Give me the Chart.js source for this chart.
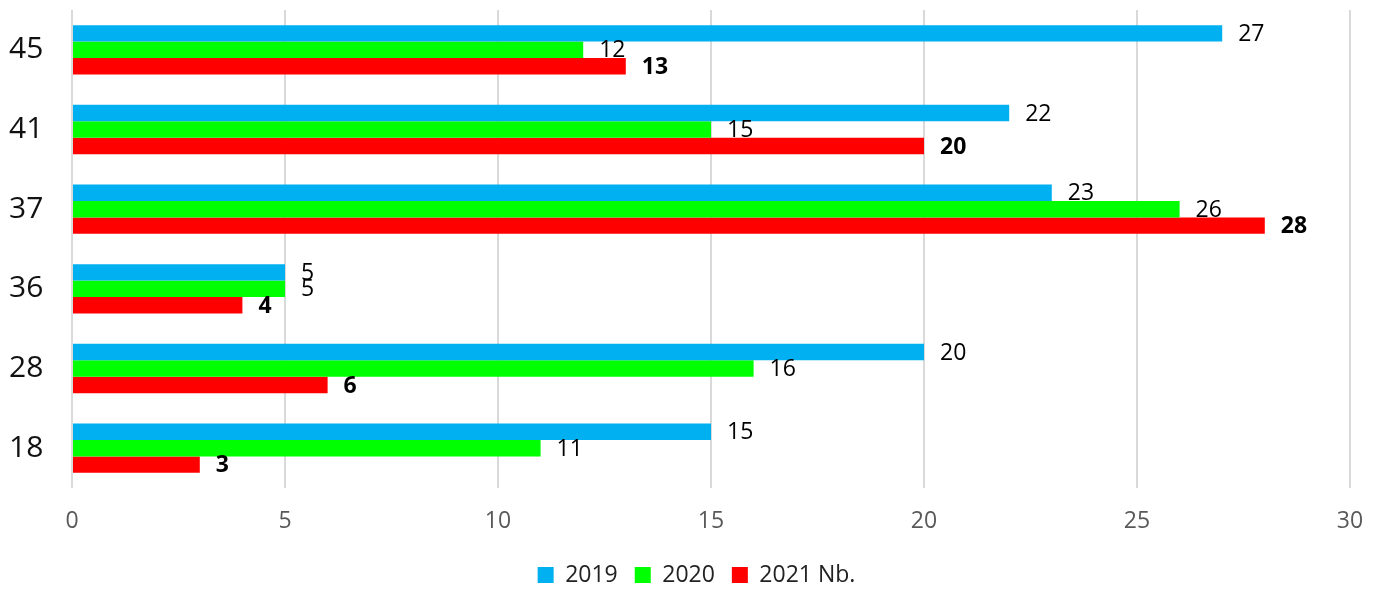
<!DOCTYPE html>
<html>
<head>
<meta charset="utf-8">
<script src="https://cdn.jsdelivr.net/npm/chart.js@4"></script>
<style>
  html, body { margin: 0; padding: 0; background: #fff; }
  #wrap { width: 1384px; height: 589px; }
</style>
</head>
<body>
<div id="wrap"><canvas id="chart" width="1384" height="589"></canvas></div>
<script>
const categories = ["45", "41", "37", "36", "28", "18"];
const values2019 = [27, 22, 23, 5, 20, 15];
const values2020 = [12, 15, 26, 5, 16, 11];
const values2021 = [13, 20, 28, 4, 6, 3];

const FONT = '"Open Sans", "Liberation Sans", sans-serif';

// value labels at the end of each bar, last series in bold
const barLabels = {
    id: "barLabels",
    afterDatasetsDraw(chart) {
        const ctx = chart.ctx;
        chart.data.datasets.forEach((ds, i) => {
            const meta = chart.getDatasetMeta(i);
            meta.data.forEach((bar, j) => {
                ctx.save();
                ctx.font = (i === 2 ? "bold " : "") + "23px " + FONT;
                ctx.fillStyle = "#000";
                ctx.textAlign = "left";
                ctx.textBaseline = "middle";
                ctx.fillText(ds.data[j], bar.x + 16, bar.y + 1);
                ctx.restore();
            });
        });
    }
};

// legend is centred on the whole page, not on the padded box
const legendShift = {
    id: "legendShift",
    afterLayout(chart) {
        chart.legend.left += 17;
        chart.legend.right += 17;
    }
};

new Chart(document.getElementById("chart"), {
    type: "bar",
    data: {
        labels: categories,
        datasets: [
            { label: "2019", data: values2019, backgroundColor: "#00B0F0" },
            { label: "2020", data: values2020, backgroundColor: "#00FF00" },
            { label: "2021 Nb.", data: values2021, backgroundColor: "#FF0000" }
        ]
    },
    options: {
        indexAxis: "y",
        responsive: false,
        animation: false,
        datasets: {
            bar: { categoryPercentage: 0.62, barPercentage: 1.0 }
        },
        layout: {
            padding: { top: 10, right: 34, left: 9, bottom: -7.5 }
        },
        plugins: {
            tooltip: { enabled: false },
            legend: {
                position: "bottom",
                labels: {
                    boxWidth: 16,
                    boxHeight: 16,
                    padding: 17,
                    color: "#222",
                    font: { family: FONT, size: 23 }
                }
            }
        },
        scales: {
            x: {
                min: 0,
                max: 30,
                ticks: {
                    stepSize: 5,
                    padding: 20,
                    color: "#595959",
                    font: { family: FONT, size: 23 }
                },
                grid: { color: "#d9d9d9", lineWidth: 2, drawTicks: false },
                border: { display: false },
                afterFit(scale) { scale.height = 58.5; }
            },
            y: {
                ticks: {
                    padding: 0,
                    crossAlign: "far",
                    color: "#111",
                    font: { family: FONT, size: 30, lineHeight: 0.6 }
                },
                grid: { display: false, drawTicks: false },
                border: { display: false },
                afterFit(scale) { scale.width = 63; }
            }
        }
    },
    plugins: [barLabels, legendShift]
});
</script>
</body>
</html>
